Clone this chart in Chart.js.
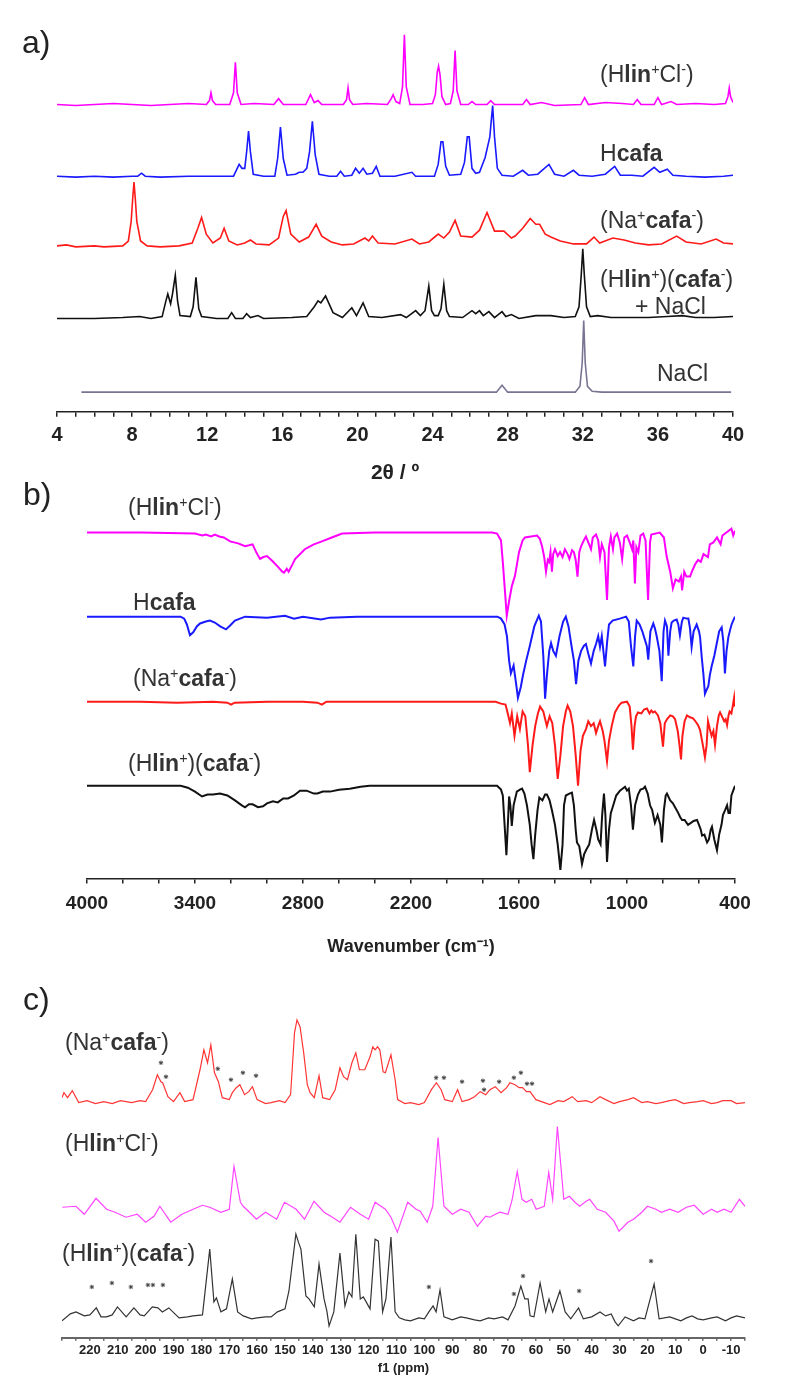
<!DOCTYPE html>
<html lang="en">
<head>
<meta charset="UTF-8">
<title>PXRD, FTIR and 13C NMR spectra</title>
<script src="https://cdn.jsdelivr.net/npm/chart.js"></script>
<style>
  body { margin: 0; background: #fff; font-family: "Liberation Sans", Arial, sans-serif; }
  #page { position: relative; width: 788px; height: 1394px; overflow: hidden; }
  canvas { position: absolute; left: 0; }
  .lbl { position: absolute; font-size: 23px; line-height: 23px; color: #333; white-space: nowrap; }
  .lbl sup { font-size: 0.62em; vertical-align: 0.55em; line-height: 0; }
  .panel { position: absolute; font-size: 32px; line-height: 32px; color: #222; }
</style>
</head>
<body>
<div id="page">
  <canvas id="xrd" width="788" height="486" style="top:0px"></canvas>
  <canvas id="ir" width="788" height="478" style="top:480px"></canvas>
  <canvas id="nmr" width="788" height="396" style="top:980px"></canvas>

  <div class="panel" style="left:22px;top:26px">a)</div>
  <div class="panel" style="left:23px;top:478px">b)</div>
  <div class="panel" style="left:23px;top:983px">c)</div>

  <!-- a) -->
  <div class="lbl" style="left:600px;top:63px">(H<b>lin</b><sup>+</sup>Cl<sup>-</sup>)</div>
  <div class="lbl" style="left:600px;top:142px">H<b>cafa</b></div>
  <div class="lbl" style="left:600px;top:209px">(Na<sup>+</sup><b>cafa</b><sup>-</sup>)</div>
  <div class="lbl" style="left:600px;top:268px">(H<b>lin</b><sup>+</sup>)(<b>cafa</b><sup>-</sup>)</div>
  <div class="lbl" style="left:635px;top:295px">+ NaCl</div>
  <div class="lbl" style="left:657px;top:362px">NaCl</div>

  <!-- b) -->
  <div class="lbl" style="left:128px;top:496px">(H<b>lin</b><sup>+</sup>Cl<sup>-</sup>)</div>
  <div class="lbl" style="left:133px;top:591px">H<b>cafa</b></div>
  <div class="lbl" style="left:133px;top:667px">(Na<sup>+</sup><b>cafa</b><sup>-</sup>)</div>
  <div class="lbl" style="left:128px;top:752px">(H<b>lin</b><sup>+</sup>)(<b>cafa</b><sup>-</sup>)</div>

  <!-- c) -->
  <div class="lbl" style="left:65px;top:1031px">(Na<sup>+</sup><b>cafa</b><sup>-</sup>)</div>
  <div class="lbl" style="left:65px;top:1132px">(H<b>lin</b><sup>+</sup>Cl<sup>-</sup>)</div>
  <div class="lbl" style="left:62px;top:1242px">(H<b>lin</b><sup>+</sup>)(<b>cafa</b><sup>-</sup>)</div>
</div>

<script>
// ---------- a) PXRD: [2theta, intensity above baseline] ----------
const xrdHlinCl = [4,0, 5,-1, 6,0, 7,1, 8,0, 9,-1, 10,0, 11,1, 11.95,0, 12.12,4, 12.2,12, 12.28,4, 12.45,0,
  13.2,0, 13.4,12, 13.5,43, 13.6,12, 13.8,0, 14.5,1, 15.55,0, 15.8,6, 16.05,0, 17.25,0, 17.5,10, 17.7,2, 17.9,4,
  18.1,0, 19.25,0, 19.42,5, 19.5,17, 19.58,5, 19.75,0, 20.5,1, 21.6,0, 21.8,6, 21.9,10, 22.05,3, 22.25,1, 22.4,18,
  22.5,71, 22.6,18, 22.8,0, 23.5,0, 24.0,1, 24.15,10, 24.25,33, 24.32,39, 24.4,30, 24.5,8, 24.7,0, 24.95,1,
  25.1,14, 25.2,55, 25.3,14, 25.5,0, 25.9,0, 26.1,3, 26.3,0, 26.9,0, 27.1,4, 27.3,0, 28,0, 28.8,0, 29,5, 29.2,0,
  29.8,2, 30.5,-1, 31.9,0, 32.1,7, 32.3,0, 33.2,2, 34.1,1, 34.7,0, 34.9,5, 35.1,0, 35.8,0, 36,7, 36.2,0, 36.7,3,
  37,0, 38,1, 39,0, 39.6,1, 39.73,8, 39.8,17, 39.87,8, 40,2];
const xrdHcafa = [4,0, 5,-1, 6,0, 7,-1, 8,0, 8.3,0, 8.5,3, 8.7,0, 9.5,-1, 11,0, 12.5,0, 13.4,0, 13.7,12, 13.85,8,
  14.0,8, 14.1,25, 14.2,46, 14.3,25, 14.45,2, 15.0,0, 15.6,0, 15.75,18, 15.9,50, 16.05,18, 16.25,1, 16.7,2, 16.9,4,
  17.1,4, 17.3,8, 17.45,25, 17.6,56, 17.75,22, 17.95,2, 18.5,0, 18.9,0, 19.1,5, 19.3,0, 19.7,1, 19.9,8, 20.1,3,
  20.3,8, 20.5,2, 20.8,3, 21,10, 21.2,0, 22,0, 22.9,4, 23.1,0, 24.1,0, 24.3,12, 24.45,35, 24.55,35, 24.7,10, 24.9,1,
  25.5,2, 25.7,14, 25.85,40, 25.95,40, 26.1,8, 26.3,3, 26.5,4, 26.8,19, 27.05,40, 27.2,72, 27.3,40, 27.45,8,
  27.7,1, 28.3,0, 28.8,6, 29.1,1, 29.6,2, 30.2,12, 30.5,2, 31,0, 31.5,6, 31.8,1, 32.5,0, 33.2,2, 33.7,10, 34,1,
  34.6,1, 35.2,0, 35.8,9, 36.1,4, 36.5,7, 36.8,1, 37.5,0, 38.5,-1, 39.5,0, 40,1];
const xrdNaCafa = [4,0, 4.5,1, 5,-1, 6,0, 6.5,-1, 7.5,0, 7.8,5, 7.95,25, 8.03,48, 8.1,65, 8.17,48, 8.25,25, 8.45,5,
  8.8,0, 9.5,-1, 10.5,0, 11.2,3, 11.5,18, 11.7,29, 11.95,12, 12.3,3, 12.7,8, 12.9,18, 13.15,5, 13.6,1, 14.0,3, 14.3,6,
  14.6,2, 15.3,1, 15.8,8, 16.05,30, 16.2,36, 16.45,12, 16.9,4, 17.4,9, 17.8,22, 18.1,10, 18.6,4, 19.2,1, 19.8,2,
  20.4,8, 20.6,5, 20.8,10, 21.1,3, 22,2, 22.9,7, 23.3,2, 23.8,4, 24.3,12, 24.6,8, 24.9,14, 25.2,26, 25.5,10, 26.1,9,
  26.5,16, 26.9,34, 27.3,15, 27.8,15, 28.2,8, 28.4,10, 28.8,18, 29.2,28, 29.5,22, 29.7,22, 30,12, 30.3,9, 30.8,5,
  31.5,2, 32.2,2, 32.6,9, 32.9,3, 33.6,8, 34.2,6, 34.8,3, 35.5,1, 36.2,2, 37,10, 37.5,4, 38.3,2, 39.1,7, 39.5,3, 40,2];
const xrdHlinCafaNaCl = [4,0, 6,0, 7.5,1, 8.4,2, 9,0, 9.6,2, 9.8,18, 9.9,25, 10.05,15, 10.15,25, 10.3,44, 10.42,18,
  10.55,3, 11.1,2, 11.25,12, 11.4,42, 11.55,10, 11.7,2, 12.5,0, 13.1,0, 13.3,6, 13.5,0, 13.9,0, 14.1,5, 14.3,1,
  14.7,3, 15.0,0, 16.5,1, 17.3,2, 17.7,12, 17.9,18, 18.05,16, 18.3,23, 18.7,6, 19.2,1, 19.7,11, 19.95,3, 20.3,16,
  20.6,2, 21.3,1, 22.3,4, 22.6,1, 23.1,8, 23.35,3, 23.6,8, 23.8,33, 23.95,8, 24.1,3, 24.3,3, 24.45,10, 24.6,35,
  24.75,8, 24.9,2, 25.6,1, 26.1,8, 26.3,5, 26.5,8, 26.7,3, 27,7, 27.3,1, 27.7,7, 27.9,2, 28.2,4, 28.6,0, 29.5,3,
  30.3,3, 31,1, 31.6,2, 31.8,12, 31.92,45, 32,71, 32.08,45, 32.2,12, 32.4,2, 32.8,3, 33.5,1, 34.5,1, 35.5,1, 36.5,2,
  37.3,3, 38,1, 39,1, 40,2];
const xrdNaCl = [5.3,0, 27.4,0, 27.7,7, 28,0, 31.6,0, 31.85,6, 31.97,30, 32.05,73, 32.13,30, 32.25,6, 32.5,1, 33,0, 39.9,0];

// ---------- b) FTIR: [wavenumber, depth of band below baseline] ----------
const irHlinCl = [4000,0, 3700,0, 3400,1, 3360,3, 3340,2, 3310,4, 3290,2, 3265,4, 3240,5, 3205,9, 3160,11, 3122,14,
  3100,13, 3080,12, 3060,20, 3039,27, 3020,25, 3000,24, 2970,29, 2939,35, 2915,40, 2905,41, 2890,37, 2880,40, 2860,33,
  2844,27, 2790,17, 2740,12, 2695,9, 2640,5, 2583,1, 2400,0, 2000,0, 1750,0, 1722,1, 1700,8, 1690,30, 1680,55, 1668,85,
  1655,70, 1640,55, 1622,44, 1600,20, 1580,8, 1567,5, 1500,3, 1485,6, 1472,14, 1460,25, 1450,40, 1440,28, 1433,30,
  1425,20, 1417,40, 1410,22, 1400,17, 1385,24, 1372,20, 1358,25, 1345,17, 1330,22, 1320,27, 1305,18, 1295,20, 1285,28,
  1275,45, 1265,20, 1255,14, 1240,8, 1228,4, 1215,10, 1200,17, 1190,5, 1172,2, 1160,8, 1150,25, 1140,12, 1125,20,
  1111,69, 1100,15, 1090,4, 1078,17, 1070,5, 1055,1, 1040,10, 1027,27, 1015,5, 1000,3, 985,10, 972,17, 965,8, 956,52,
  948,15, 937,20, 925,3, 910,1, 897,8, 883,69, 872,10, 865,2, 818,0, 795,5, 780,24, 760,40, 745,57, 730,48, 712,50,
  700,45, 694,59, 682,40, 670,45, 650,45, 635,38, 620,32, 605,28, 590,30, 575,22, 550,25, 540,12, 520,10, 500,5,
  480,12, 470,3, 420,-4, 410,3, 400,-2];
const irHcafa = [4000,0, 3700,0, 3480,0, 3460,2, 3445,8, 3428,19, 3410,16, 3390,10, 3372,7, 3340,5, 3317,4, 3290,6,
  3260,10, 3228,13, 3205,9, 3178,4, 3122,0, 3000,1, 2900,-1, 2850,2, 2800,0, 2700,3, 2650,1, 2500,0, 2000,0, 1720,0,
  1700,2, 1680,8, 1667,20, 1655,45, 1645,58, 1630,50, 1615,70, 1606,83, 1590,72, 1578,60, 1560,45, 1540,30, 1515,10,
  1490,-1, 1478,5, 1465,40, 1455,84, 1445,60, 1432,35, 1422,27, 1410,35, 1395,40, 1375,20, 1355,5, 1340,0, 1325,10,
  1310,28, 1295,45, 1283,69, 1270,45, 1255,35, 1240,30, 1228,28, 1215,38, 1200,48, 1185,35, 1172,28, 1160,20, 1150,31,
  1140,20, 1122,51, 1110,25, 1100,8, 1080,4, 1040,2, 1005,0, 990,5, 978,30, 965,51, 955,20, 946,4, 930,8, 915,15,
  900,24, 890,30, 882,44, 870,15, 854,7, 845,12, 835,20, 820,35, 807,66, 797,15, 789,4, 778,10, 770,40, 760,15, 752,6,
  740,4, 724,3, 715,8, 706,19, 695,5, 687,1, 670,2, 659,2, 650,12, 641,31, 630,15, 613,8, 600,15, 594,21, 585,41,
  575,60, 567,79, 558,75, 548,71, 540,60, 530,51, 515,40, 502,28, 488,15, 474,11, 465,25, 456,58, 447,35, 437,21,
  425,12, 419,8, 410,4, 400,0];
const irNaCafa = [4000,0, 3700,0, 3500,1, 3300,0, 3220,1, 3200,3, 3180,1, 3000,0, 2800,0, 2720,1, 2695,3, 2670,0,
  2300,0, 2000,0, 1730,0, 1700,2, 1675,3, 1665,10, 1650,22, 1640,12, 1625,35, 1610,15, 1595,28, 1580,10, 1565,15,
  1550,45, 1540,72, 1525,45, 1510,25, 1495,12, 1483,5, 1465,10, 1445,25, 1430,15, 1415,22, 1400,45, 1385,79, 1370,55,
  1355,25, 1340,10, 1330,4, 1315,10, 1300,25, 1285,55, 1272,86, 1258,50, 1245,35, 1228,28, 1215,20, 1200,25, 1185,22,
  1172,32, 1160,25, 1150,20, 1135,30, 1125,40, 1111,61, 1100,40, 1085,25, 1067,11, 1045,4, 1030,1, 1000,0, 985,5,
  975,25, 967,49, 958,25, 950,15, 939,11, 920,12, 905,8, 889,7, 875,12, 865,9, 856,11, 845,10, 828,14, 815,22, 800,46,
  790,22, 778,18, 760,14, 745,15, 733,18, 718,30, 708,45, 700,59, 692,35, 680,20, 667,14, 650,16, 633,17, 620,20,
  605,24, 594,29, 585,38, 575,48, 567,57, 558,45, 550,20, 540,28, 530,35, 520,30, 511,44, 500,25, 490,14, 483,11,
  470,16, 460,20, 452,18, 444,24, 436,14, 430,10, 420,12, 412,4, 405,-4, 402,5, 400,-2];
const irHlinCafa = [4000,0, 3700,0, 3480,0, 3440,2, 3400,6, 3361,11, 3330,9, 3300,9, 3261,8, 3220,10, 3178,15, 3140,20,
  3122,22, 3100,19, 3080,19, 3050,22, 3022,21, 3000,18, 2967,16, 2940,17, 2910,13, 2883,13, 2850,10, 2817,5, 2780,5,
  2740,8, 2720,8, 2690,6, 2650,6, 2600,4, 2540,3, 2480,1, 2430,0, 2000,0, 1722,0, 1700,4, 1690,10, 1680,40, 1670,71,
  1662,40, 1655,11, 1648,20, 1640,41, 1630,20, 1612,6, 1595,4, 1583,3, 1570,8, 1556,20, 1540,40, 1530,60, 1520,75,
  1510,50, 1497,25, 1487,12, 1470,15, 1455,9, 1445,9, 1430,15, 1417,25, 1400,40, 1385,60, 1370,86, 1358,60, 1350,20,
  1340,10, 1320,8, 1306,7, 1295,20, 1285,45, 1278,58, 1265,62, 1250,80, 1238,70, 1225,65, 1210,60, 1195,45, 1183,35,
  1170,45, 1160,55, 1147,60, 1138,30, 1128,8, 1120,30, 1111,78, 1100,45, 1090,28, 1078,21, 1060,10, 1039,5, 1025,3,
  1011,1, 1000,5, 990,3, 978,20, 967,45, 955,20, 939,9, 925,4, 910,3, 900,1, 885,8, 872,20, 860,25, 845,38, 830,30,
  815,40, 806,58, 795,25, 785,10, 778,8, 760,15, 745,18, 733,22, 715,28, 705,32, 694,35, 680,35, 661,40, 645,38,
  630,36, 611,35, 600,40, 590,45, 583,51, 570,50, 555,58, 545,55, 535,45, 528,42, 515,55, 500,66, 488,50, 475,40,
  467,30, 455,25, 444,20, 436,28, 428,28, 420,10, 410,5, 400,0];

// ---------- c) 13C NMR: [ppm, intensity above baseline] ----------
const nmrNaCafa = [230,5, 229.3,10, 228,5, 226.3,12, 224,0, 221,2, 218,-1, 215,1, 212,-1, 209,2, 205,0, 202,2, 200,1,
  197.5,13, 195.8,28, 194.5,21, 193.9,20, 192,6, 190,1, 187.7,10, 186,1, 183,3, 180.5,33, 179.1,53, 177.8,40, 176.6,58,
  175.3,30, 173.9,21, 172.5,5, 170,3, 168.9,10, 167.5,15, 166.2,18, 164.5,8, 163,11, 161.7,16, 160,3, 157,-1, 155,0,
  152,2, 150,0, 148,8, 146.6,70, 145.7,83, 144.6,76, 143.3,50, 142,18, 141,10, 139.5,5, 137.8,27, 136.5,5, 134,3,
  132,13, 130.3,35, 129,26, 127.6,23, 126,40, 124.6,50, 123.3,33, 121.4,33, 119.5,46, 118.5,56, 117.7,53, 116.8,56,
  116,53, 114.8,31, 114,30, 112,48, 110.5,23, 109.6,3, 107,-1, 105,0, 102,-2, 100,0, 97.5,13, 95.7,20, 94,13, 92.7,3,
  90,1, 88.1,13, 86.5,1, 84,3, 82,6, 80,11, 78,8, 76.5,13, 74.6,16, 72.5,10, 70.5,15, 69.3,20, 67.5,18, 66,15,
  64.8,15, 63.4,11, 62.1,11, 60,3, 57,0, 55,-2, 52,2, 50,1, 47,6, 45,1, 42,2, 40,0, 37,6, 35,3, 32,-1, 30,1, 27,3,
  25,5, 22,0, 20,1, 17,-1, 15,0, 12,2, 10,3, 7,-1, 5,0, 2,1, 0,2, -3,-1, -5,0, -7,2, -10,2, -12,-1, -15,0];
const nmrHlinCl = [229.9,7, 225,8, 222,0, 217.8,16, 214,5, 211,2, 207,-3, 203,0, 200,-8, 197,-2, 194.9,8, 191,-8,
  187,0, 183,5, 179.6,9, 177,7, 173,2, 170,5, 168.3,48, 166,12, 165,8, 162,0, 160.3,-5, 157,2, 153,-5, 150.2,12,
  146,5, 143,-5, 139.6,13, 136,2, 133,-3, 130.3,-8, 126.5,7, 123,0, 120,-5, 117.7,12, 114,5, 112,-3, 109.7,-18,
  106,12, 103,5, 101.5,3, 99,-8, 97,8, 95.1,77, 93,8, 90,0, 87,5, 84,2, 81,-12, 78,-2, 76.6,-3, 73,2, 70,0, 68.5,15,
  66.7,43, 65,15, 63.5,12, 61.5,15, 59.9,5, 57,8, 55.4,42, 54,15, 52.3,88, 50,15, 48,18, 46,12, 44.3,8, 42,13,
  40.7,15, 38,5, 35,2, 32,-7, 30.2,-17, 27,-8, 25,-5, 22,2, 20,8, 17,5, 15,2, 12,5, 9,2, 6,7, 3.2,9, 0,0, -3,5,
  -5,2, -7.5,5, -10,2, -13,15, -15,8];
const nmrHlinCafa = [230,-3, 227,4, 225,6, 222,2, 220,3, 217.7,10, 216,1, 214,1, 212,3, 210.1,11, 207,1, 204.2,10,
  202,3, 200.5,2, 197.6,11, 195.6,10, 194,6, 191.7,10, 188,0, 185,1, 183,2, 179.6,3, 177,69, 175.5,16, 174.6,20, 173,6,
  171,9, 168.9,39, 167,6, 165,2, 162,-1, 160,0, 157,1, 155,1, 152.7,6, 150,9, 148.6,27, 146.1,84, 145.2,76, 144.3,69,
  142.5,22, 141.4,19, 139.5,11, 137.8,54, 136,19, 135,7, 134.2,-8, 132.5,6, 130.3,65, 128.5,12, 127.1,26, 126,21,
  124.6,84, 123,19, 121.9,21, 119.5,9, 117.7,79, 116.5,77, 115,6, 113.8,19, 112,81, 110.5,6, 109,0, 107,-2, 105,-3,
  102,0, 100,-1, 98.4,6, 96.9,12, 95.8,6, 94.4,28, 93,1, 90,-2, 87,1, 85,0, 82,-2, 80,-3, 77,0, 75,-1, 72,1, 70,-2,
  67.5,12, 65.4,32, 64,19, 62.8,19, 62.1,2, 60.7,1, 58.5,35, 56.5,6, 55.3,19, 54,6, 51.4,27, 49.5,6, 47.5,-1, 44.7,10,
  43,-1, 40,1, 37,6, 35,2, 33,4, 31.6,-4, 30.5,-8, 28,1, 25,-3, 23,0, 20.9,-1, 17.6,34, 15.8,-1, 12,1, 10,-1, 8,-3,
  6,0, 4,2, 2,-1, 0,-2, -3,0, -5,1, -8,-3, -10,0, -12,2, -15,0];
// spinning side bands marked with asterisks: [ppm, height above baseline]
const starsNaCafa = [194.5,40, 192.7,26, 174.1,34, 169.4,23, 165.1,30, 160.4,27, 95.8,25, 93,25, 86.5,21, 79,22,
  78.6,13, 73.2,21, 67.9,25, 65.4,30, 63.2,19, 61.4,19];
const starsHlinCafa = [219.3,31, 212.1,35, 205.3,31, 199.2,33, 197.4,33, 193.8,33, 98.4,31, 67.9,24, 64.6,42,
  44.5,27, 18.7,57];

// ---------- drawing ----------
Chart.defaults.font.family = '"Liberation Sans", Arial, sans-serif';

function pairs(arr, offset, sign) {
  const out = [];
  for (let i = 0; i < arr.length; i += 2) out.push({ x: arr[i], y: offset + sign * arr[i + 1] });
  return out;
}
function trace(arr, offset, sign, color, width) {
  return { data: pairs(arr, offset, sign), borderColor: color, borderWidth: width, pointRadius: 0, tension: 0 };
}
function stars(arr, offset) {
  return { data: pairs(arr, offset, 1), showLine: false, pointStyle: 'star', pointRadius: 2.2,
           borderColor: '#444', borderWidth: 1, pointBorderColor: '#444' };
}

function spectrum(id, c) {
  return new Chart(document.getElementById(id), {
    type: 'line',
    data: { datasets: c.datasets },
    options: {
      responsive: false,
      animation: false,
      events: [],
      layout: { padding: c.padding },
      plugins: { legend: { display: false }, tooltip: { enabled: false } },
      scales: {
        x: {
          type: 'linear', min: c.min, max: c.max, reverse: !!c.reverse,
          ticks: { stepSize: c.step, autoSkip: false, maxRotation: 0, callback: c.label,
                   font: { size: c.tickSize, weight: 'bold' }, color: '#222', padding: c.tickPad },
          grid: { drawOnChartArea: false, drawTicks: true, tickLength: c.tickLen, color: c.axisColor, lineWidth: 1.5 },
          border: { display: true, color: c.axisColor, width: c.axisWidth },
          title: { display: true, text: c.title, color: '#222',
                   font: { size: c.titleSize, weight: 'bold' }, padding: { top: c.titlePad, bottom: 0 } }
        },
        y: { display: false, min: 0, max: c.yMax }
      }
    }
  });
}

spectrum('xrd', {
  padding: { left: 57, right: 55, top: 25, bottom: 0 },
  min: 4, max: 40, step: 1, label: v => (v % 4 === 0 ? v : ''),
  tickSize: 20, tickPad: 7, tickLen: 5, axisColor: '#222', axisWidth: 1.5,
  title: '2θ / º', titleSize: 21, titlePad: 6, yMax: 394,
  datasets: [
    trace(xrdHlinCl, 313, 1, '#ff00ff', 1.6),
    trace(xrdHcafa, 240, 1, '#1a1aff', 1.6),
    trace(xrdNaCafa, 169, 1, '#ff1a1a', 1.6),
    trace(xrdHlinCafaNaCl, 95, 1, '#111111', 1.6),
    trace(xrdNaCl, 20, 1, '#7b7394', 1.6)
  ]
});

spectrum('ir', {
  padding: { left: 87, right: 53, top: 35, bottom: 0 },
  min: 400, max: 4000, reverse: true, step: 200, label: v => ((4000 - v) % 600 === 0 ? v : ''),
  tickSize: 19, tickPad: 9, tickLen: 5, axisColor: '#222', axisWidth: 1.5,
  title: 'Wavenumber (cm⁻¹)', titleSize: 18, titlePad: 12, yMax: 372,
  datasets: [
    trace(irHlinCl, 354, -1, '#ff00ff', 2),
    trace(irHcafa, 268, -1, '#1a1aff', 2),
    trace(irNaCafa, 181, -1, '#ff1a1a', 2),
    trace(irHlinCafa, 95, -1, '#111111', 2)
  ]
});

spectrum('nmr', {
  padding: { left: 62, right: 43, top: 20, bottom: 0 },
  min: -15, max: 230, reverse: true, step: 5,
  label: v => (v % 10 === 0 && v <= 220 && v >= -10 ? v : ''),
  tickSize: 13, tickPad: 2, tickLen: 3, axisColor: '#666', axisWidth: 2,
  title: 'f1 (ppm)', titleSize: 13, titlePad: 0, yMax: 339,
  datasets: [
    trace(nmrNaCafa, 236, 1, '#ff3535', 1.2),
    trace(nmrHlinCl, 124, 1, '#ff45ff', 1.2),
    trace(nmrHlinCafa, 20, 1, '#333333', 1.2),
    stars(starsNaCafa, 236),
    stars(starsHlinCafa, 20)
  ]
});
</script>
</body>
</html>
